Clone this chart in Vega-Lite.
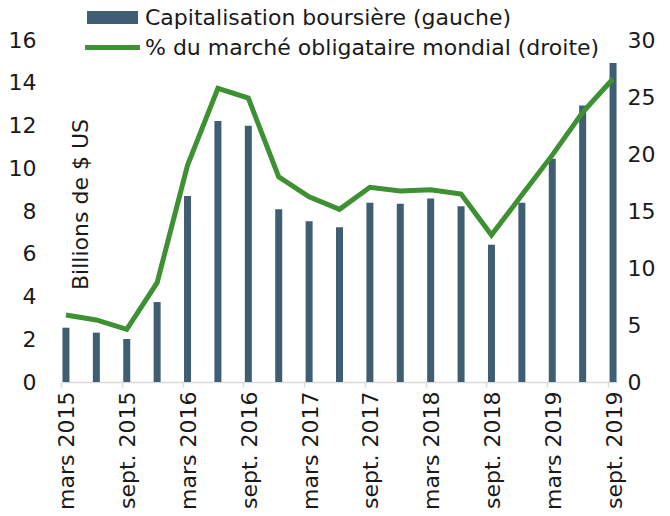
{
  "$schema": "https://vega.github.io/schema/vega-lite/v6.json",
  "autosize": "none",
  "width": 555,
  "height": 342,
  "padding": {"left": 62, "top": 40, "right": 53, "bottom": 134},
  "background": "white",
  "config": {
    "font": "DejaVu Sans",
    "view": {"stroke": null},
    "axis": {"grid": false, "labelFont": "DejaVu Sans", "labelFontSize": 22, "labelColor": "#1a1a1a", "titleFont": "DejaVu Sans", "titleColor": "#1a1a1a"}
  },
  "data": {
    "values": [
      {"q": "mars 2015", "cap": 2.54, "pct": 5.88},
      {"q": "juin 2015", "cap": 2.31, "pct": 5.44},
      {"q": "sept. 2015", "cap": 2.01, "pct": 4.62},
      {"q": "déc. 2015", "cap": 3.74, "pct": 8.71},
      {"q": "mars 2016", "cap": 8.70, "pct": 19.0},
      {"q": "juin 2016", "cap": 12.21, "pct": 25.75},
      {"q": "sept. 2016", "cap": 11.99, "pct": 24.9},
      {"q": "déc. 2016", "cap": 8.08, "pct": 18.0},
      {"q": "mars 2017", "cap": 7.52, "pct": 16.25},
      {"q": "juin 2017", "cap": 7.24, "pct": 15.15},
      {"q": "sept. 2017", "cap": 8.39, "pct": 17.08},
      {"q": "déc. 2017", "cap": 8.34, "pct": 16.75},
      {"q": "mars 2018", "cap": 8.58, "pct": 16.87},
      {"q": "juin 2018", "cap": 8.22, "pct": 16.49},
      {"q": "sept. 2018", "cap": 6.42, "pct": 12.89},
      {"q": "déc. 2018", "cap": 8.39, "pct": 16.4},
      {"q": "mars 2019", "cap": 10.45, "pct": 19.9},
      {"q": "juin 2019", "cap": 12.93, "pct": 23.65},
      {"q": "sept. 2019", "cap": 14.92, "pct": 26.6}
    ]
  },
  "layer": [
    {
      "mark": {"type": "bar", "width": 7},
      "encoding": {
        "x": {
          "field": "q", "type": "ordinal", "sort": null,
          "scale": {"type": "point", "padding": 0.13},
          "axis": {
            "title": null,
            "values": ["mars 2015", "sept. 2015", "mars 2016", "sept. 2016", "mars 2017", "sept. 2017", "mars 2018", "sept. 2018", "mars 2019", "sept. 2019"],
            "domainColor": "#d9d9d9", "domainWidth": 1.5,
            "tickColor": "#d9d9d9", "tickWidth": 1.5, "tickSize": 5, "tickOffset": -5,
            "labelOffset": 6, "labelAngle": 270, "labelAlign": "right", "labelBaseline": "middle",
            "labelPadding": 4, "labelOverlap": false
          }
        },
        "y": {
          "field": "cap", "type": "quantitative",
          "scale": {"domain": [0, 16], "nice": false},
          "axis": {
            "values": [0, 2, 4, 6, 8, 10, 12, 14, 16],
            "domain": false, "ticks": false, "labelPadding": 26,
            "title": "Billions de $ US", "titleX": 18, "titleY": 164, "titleAngle": 270,
            "titleAlign": "center", "titleBaseline": "middle",
            "titleFontSize": 22, "titleFontWeight": "normal"
          }
        },
        "color": {
          "datum": "Capitalisation boursière (gauche)", "type": "nominal",
          "scale": {
            "domain": ["Capitalisation boursière (gauche)", "% du marché obligataire mondial (droite)"],
            "range": ["#3f5e74", "#3d9132"]
          },
          "legend": {
            "title": null, "orient": "none", "legendX": 36.5, "legendY": -36.5,
            "direction": "vertical", "padding": 0, "symbolSize": 784, "labelOffset": 18.5,
            "rowPadding": 5, "labelFontSize": 22, "labelFont": "DejaVu Sans", "labelColor": "#1a1a1a", "labelLimit": 600,
            "encode": {
              "symbols": {
                "update": {
                  "shape": {"signal": "datum.value === 'Capitalisation boursière (gauche)' ? 'M-1.82,-0.46H1.82V0.46H-1.82Z' : 'M-1.96,-0.18H1.96V0.18H-1.96Z'"},
                  "fill": {"signal": "datum.value === 'Capitalisation boursière (gauche)' ? '#3f5e74' : '#3d9132'"},
                  "stroke": {"value": "transparent"},
                  "strokeWidth": {"value": 0},
                  "opacity": {"value": 1},
                  "fillOpacity": {"value": 1}
                }
              }
            }
          }
        }
      }
    },
    {
      "mark": {"type": "line", "strokeWidth": 5},
      "encoding": {
        "x": {"field": "q", "type": "ordinal", "sort": null},
        "y": {
          "field": "pct", "type": "quantitative",
          "scale": {"domain": [0, 30], "nice": false},
          "axis": {
            "orient": "right", "values": [0, 5, 10, 15, 20, 25, 30],
            "domain": false, "ticks": false, "labelPadding": 10, "title": null
          }
        },
        "color": {"datum": "% du marché obligataire mondial (droite)", "type": "nominal"}
      }
    }
  ],
  "resolve": {"scale": {"y": "independent"}}
}
